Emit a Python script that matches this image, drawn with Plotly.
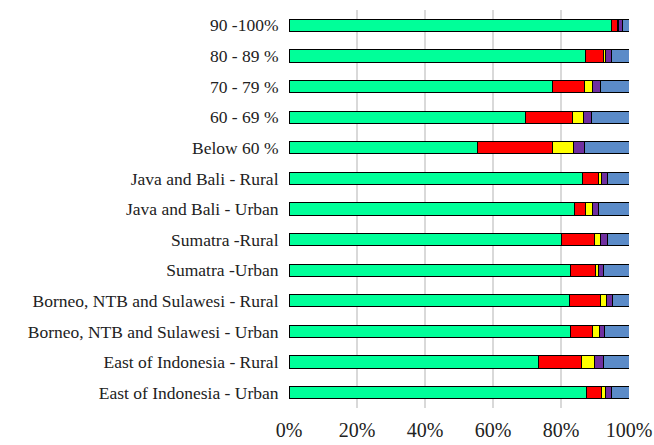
import plotly.graph_objects as go

categories = ["90 -100%", "80 - 89 %", "70 - 79 %", "60 - 69 %", "Below 60 %",
              "Java and Bali - Rural", "Java and Bali - Urban", "Sumatra -Rural",
              "Sumatra -Urban", "Borneo, NTB and Sulawesi - Rural",
              "Borneo, NTB and Sulawesi - Urban", "East of Indonesia - Rural",
              "East of Indonesia - Urban"]

green = [94.8, 87.3, 77.6, 69.6, 55.3, 86.2, 83.9, 80.2, 82.9, 82.6, 82.9, 73.5, 87.4]
red = [1.7, 5.1, 9.4, 13.7, 22.2, 4.9, 3.2, 9.6, 7.2, 9.1, 6.3, 12.5, 4.5]
yellow = [0.3, 0.8, 2.4, 3.3, 6.3, 0.8, 2.3, 1.8, 1.0, 1.8, 2.0, 3.9, 1.3]
purple = [1.2, 1.7, 2.2, 2.5, 3.2, 1.8, 1.6, 2.0, 1.5, 1.5, 1.7, 2.5, 1.6]
blue = [2.0, 5.1, 8.4, 10.9, 13.0, 6.3, 9.0, 6.4, 7.4, 5.0, 7.1, 7.6, 5.2]

series = [("green", green, "#00FF99"), ("red", red, "#FF0000"),
          ("yellow", yellow, "#FFFF00"), ("purple", purple, "#7030A0"),
          ("blue", blue, "#5B8BC8")]

fig = go.Figure()
for name, vals, col in series:
    fig.add_trace(go.Bar(
        y=categories, x=[v / 100 for v in vals], name=name, orientation="h",
        marker=dict(color=col, line=dict(color="black", width=1)),
        showlegend=False,
    ))

fig.update_layout(
    barmode="stack", bargap=0.6,
    width=654, height=445,
    margin=dict(l=289, r=25, t=10, b=37),
    paper_bgcolor="white", plot_bgcolor="white",
    font=dict(family="Liberation Serif, Times New Roman, serif", color="#222"),
)
fig.update_xaxes(range=[0, 1], tickvals=[0, 0.2, 0.4, 0.6, 0.8, 1.0],
                 ticktext=["0%", "20%", "40%", "60%", "80%", "100%"],
                 showgrid=True, gridcolor="#d9d9d9", gridwidth=2,
                 zeroline=False, showline=False, tickfont=dict(size=20),
                 ticks="outside", ticklen=4, tickcolor="rgba(0,0,0,0)",
                 automargin=False)
fig.update_yaxes(autorange="reversed", showgrid=False, zeroline=False,
                 showline=False, tickfont=dict(size=17.5),
                 ticks="outside", ticklen=6, tickcolor="rgba(0,0,0,0)",
                 automargin=False)

fig.write_html("out.html", config={"displayModeBar": False},
               post_script="document.body.style.margin='0';document.body.style.overflow='hidden';")
